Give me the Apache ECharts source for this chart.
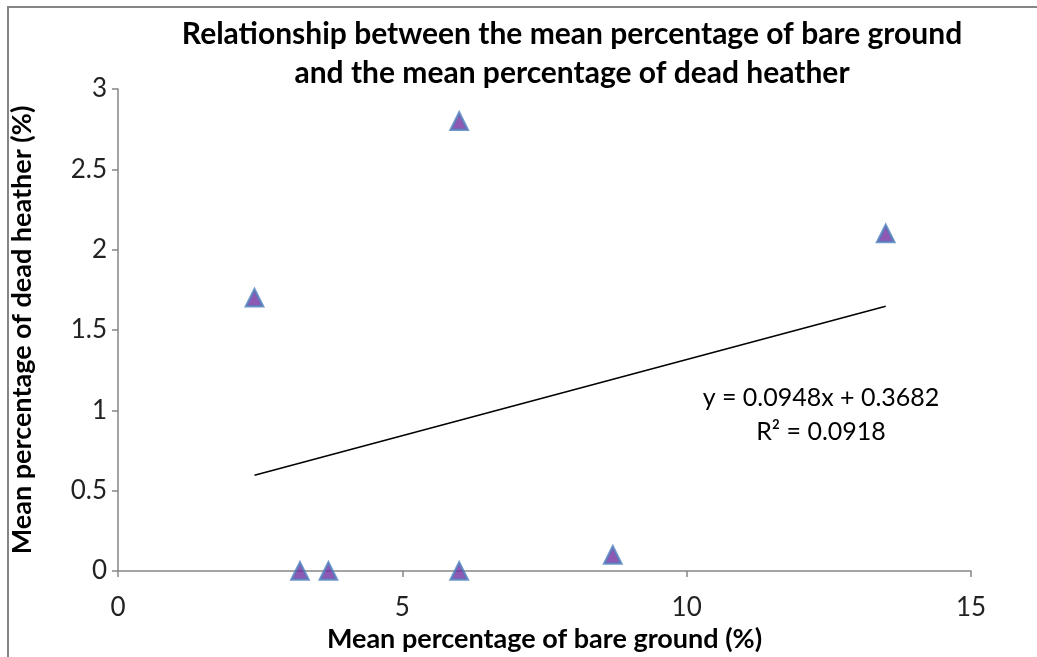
<!DOCTYPE html>
<html>
<head>
<meta charset="utf-8">
<script src="https://cdn.jsdelivr.net/npm/echarts@6/dist/echarts.min.js"></script>
<style>
	html, body { margin: 0; padding: 0; background: #fff; }
	#frame { position: absolute; left: 7px; top: 6px; width: 1030px; height: 651px;
		border-left: 2px solid #868686; border-top: 2px solid #868686; }
	#myChart { position: absolute; left: 0; top: 0; width: 1037px; height: 657px; }
</style>
</head>
<body>
<div id="frame"></div>
<div id="myChart"></div>
<script>
	// bare ground (%) vs dead heather (%)
	var bareGround = [2.4, 6.0, 13.5, 3.2, 3.7, 6.0, 8.7];
	var deadHeather = [1.7, 2.8, 2.1, 0, 0, 0, 0.1];
	// linear trendline ends (y = 0.0948x + 0.3682)
	var trendX = [2.4, 13.5];
	var trendY = [0.596, 1.648];
	var xTicks = [0, 5, 10, 15];
	var yTicks = [0, 0.5, 1, 1.5, 2, 2.5, 3];

	var points = [];
	for (let j = 0; j < bareGround.length; j++) {
		points.push([bareGround[j], deadHeather[j]]);
	}
	var trend = [];
	for (let j = 0; j < trendX.length; j++) {
		trend.push([trendX[j], trendY[j]]);
	}

	var font = "Lato";
	var myChart = echarts.init(document.getElementById("myChart"));
	myChart.setOption({
		animation: false,
		title: {
			text: "Relationship between the mean percentage of bare ground\nand the mean percentage of dead heather",
			left: 567,
			top: 10,
			textAlign: "center",
			textStyle: {
				fontFamily: font,
				fontWeight: "bold",
				fontSize: 30,
				lineHeight: 39,
				color: "#000"
			}
		},
		grid: {
			left: 118,
			right: 66,
			top: 89,
			bottom: 86,
			outerBoundsMode: "none"
		},
		xAxis: {
			type: "value",
			min: xTicks[0],
			max: xTicks[xTicks.length - 1],
			interval: 5,
			name: "Mean percentage of bare ground (%)",
			nameLocation: "middle",
			nameGap: 50,
			nameTextStyle: {
				fontFamily: font,
				fontWeight: "bold",
				fontSize: 27,
				color: "#000"
			},
			splitLine: { show: false },
			axisLine: { lineStyle: { color: "#868686", width: 1.5 } },
			axisTick: { length: 6, lineStyle: { color: "#868686", width: 1.5 } },
			axisLabel: {
				margin: 24,
				fontFamily: font,
				fontSize: 26,
				color: "#222"
			}
		},
		yAxis: {
			type: "value",
			min: yTicks[0],
			max: yTicks[yTicks.length - 1],
			interval: 0.5,
			name: "Mean percentage of dead heather (%)",
			nameLocation: "middle",
			nameGap: 82,
			nameTextStyle: {
				fontFamily: font,
				fontWeight: "bold",
				fontSize: 27,
				color: "#000"
			},
			splitLine: { show: false },
			axisLine: { show: true, lineStyle: { color: "#868686", width: 1.5 } },
			axisTick: { show: true, length: 6, lineStyle: { color: "#868686", width: 1.5 } },
			axisLabel: {
				margin: 11,
				fontFamily: font,
				fontSize: 26,
				color: "#222"
			}
		},
		graphic: [{
			type: "text",
			x: 821,
			y: 381,
			style: {
				text: "y = 0.0948x + 0.3682\nR² = 0.0918",
				align: "center",
				fontFamily: font,
				fontSize: 25,
				lineHeight: 34,
				fill: "#000"
			}
		}],
		series: [{
				name: "trend",
				type: "line",
				data: trend,
				symbol: "none",
				lineStyle: { color: "#000", width: 1.5 },
				z: 1
			},
			{
				name: "points",
				type: "scatter",
				data: points,
				symbol: "triangle",
				symbolSize: 17,
				itemStyle: {
					color: "#7030A0",
					borderColor: "#4F81BD",
					borderWidth: 2.5
				},
				z: 3
			}
		]
	});
</script>
</body>
</html>
